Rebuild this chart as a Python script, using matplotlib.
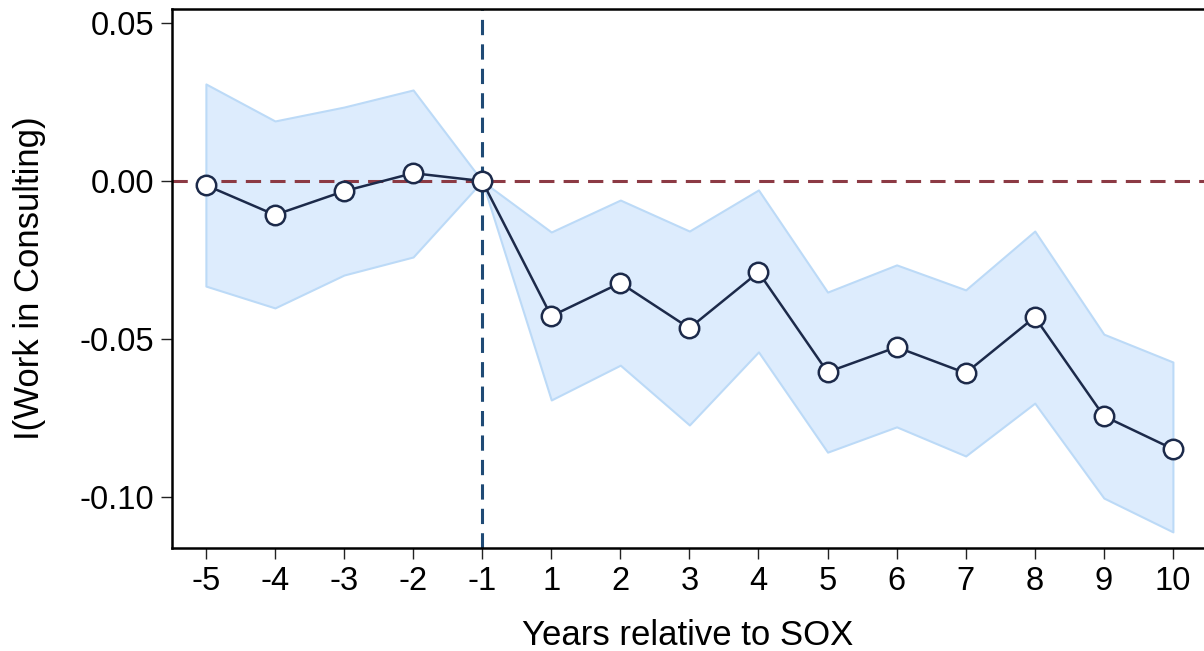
import numpy as np
import matplotlib.pyplot as plt

plt.rcParams['font.family'] = ['Liberation Sans', 'DejaVu Sans']

years = ['-5', '-4', '-3', '-2', '-1', '1', '2', '3', '4', '5', '6', '7', '8', '9', '10']
coef = [-0.0013, -0.0107, -0.0032, 0.0025, 0.0, -0.0427, -0.0322, -0.0465, -0.0288,
        -0.0604, -0.0525, -0.0607, -0.0430, -0.0743, -0.0847]
ci_hi = [0.0307, 0.0190, 0.0234, 0.0288, 0.0, -0.0161, -0.0060, -0.0158, -0.0028,
         -0.0351, -0.0265, -0.0344, -0.0158, -0.0484, -0.0572]
ci_lo = [-0.0332, -0.0401, -0.0297, -0.0240, 0.0, -0.0692, -0.0582, -0.0771, -0.0540,
         -0.0857, -0.0777, -0.0869, -0.0702, -0.1002, -0.1109]

x = np.arange(len(years))

fig = plt.figure(figsize=(12.04, 6.51), dpi=100)
ax = fig.add_axes([0.1429, 0.1582, 0.8571, 0.8280])

ax.fill_between(x, ci_lo, ci_hi, facecolor='#ddecfd', edgecolor='#bcdaf7', linewidth=1.5, zorder=1)
ax.axhline(0, color='#8c3a44', linestyle=(0, (5, 3)), linewidth=2.2, zorder=2)
ax.axvline(4, color='#1f4a75', linestyle=(0, (5, 3)), linewidth=2.2, zorder=2)
ax.plot(x, coef, color='#1c2a4a', linewidth=1.8, marker='o', markersize=14,
        markerfacecolor='white', markeredgecolor='#1c2a4a', markeredgewidth=1.8, zorder=3)

ax.set_xlim(-0.49, 14.45)
ax.set_ylim(-0.116, 0.0544)
ax.set_xticks(x)
ax.set_xticklabels(years)
ax.set_yticks([-0.10, -0.05, 0.0, 0.05])
ax.set_yticklabels(['-0.10', '-0.05', '0.00', '0.05'])
ax.tick_params(labelsize=23.5, length=8, width=1.0, color='#222222', pad=5)
ax.spines['right'].set_visible(False)
for s in ['left', 'bottom', 'top']:
    ax.spines[s].set_linewidth(1.8)
ax.set_xlabel('Years relative to SOX', fontsize=25, labelpad=16)
ax.set_ylabel('I(Work in Consulting)', fontsize=25, labelpad=24)

fig.savefig('out.png', dpi=100)
